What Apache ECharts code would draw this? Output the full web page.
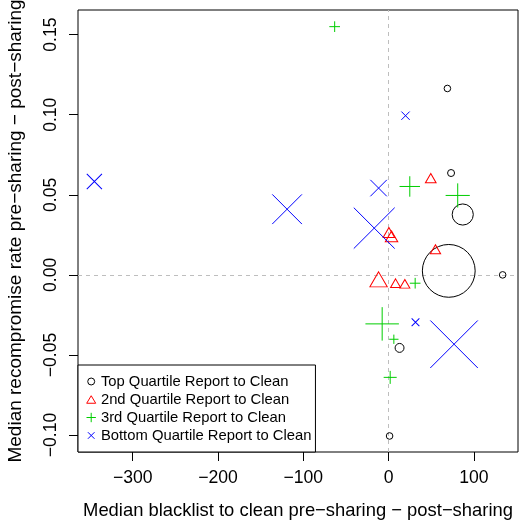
<!DOCTYPE html>
<html>
<head>
<meta charset="utf-8">
<script src="https://cdn.jsdelivr.net/npm/echarts@6/dist/echarts.min.js"></script>
<style>
  html, body { margin: 0; padding: 0; background: #fff; }
  #chart { width: 519px; height: 524px; }
</style>
</head>
<body>
<div id="chart"></div>
<script>
// groups (legend order)
var groupNames = ["Top Quartile Report to Clean", "2nd Quartile Report to Clean",
  "3rd Quartile Report to Clean", "Bottom Quartile Report to Clean"];

// x: median blacklist to clean diff, y: median recompromise rate diff, cex: marker size
var topX = [69, 73.3, 87, 70.6, 133.8, 12.9, 1.2];
var topY = [0.1164, 0.0636, 0.0377, 0.0025, 0.0, -0.0456, -0.1006];
var topCex = [1, 1.06, 3.2, 8.0, 1, 1.35, 1];

var secondX = [49.5, 0.4, 3.5, 55, -11.7, 8.2, 19.1];
var secondY = [0.0604, 0.0265, 0.024, 0.016, -0.0028, -0.0052, -0.0056];
var secondCex = [1.2, 1.3, 1.4, 1.16, 1.95, 1.12, 1.12];

var thirdX = [-63.2, 24.9, 81.1, -7.5, 6.2, 1.9, 31.2];
var thirdY = [0.155, 0.0552, 0.0496, -0.0306, -0.0402, -0.064, -0.0052];
var thirdCex = [1.15, 2.2, 2.6, 3.6, 1, 1.4, 1.15];

var bottomX = [-345, -119, -16.8, -11.7, 19.9, 31.6, 76.8];
var bottomY = [0.0583, 0.041, 0.0292, 0.0542, 0.0994, -0.0296, -0.0433];
var bottomCex = [2.3, 4.5, 6.2, 2.5, 1.26, 1.17, 7.2];

var xTicks = [-300, -200, -100, 0, 100];
var yTicks = [-0.1, -0.05, 0, 0.05, 0.1, 0.15];

var FONT = "Liberation Sans";
var PLUS = "path://M0,5L10,5M5,0L5,10";
var CROSS = "path://M0,0L10,10M10,0L0,10";

function pts(xs, ys, cs) {
  return xs.map(function (x, i) { return [x, ys[i], cs[i]]; });
}
function minus(s) { return s.replace("-", "\u2212"); }

function makeSeries(name, data, symbol, color, sizeFn) {
  return {
    name: name,
    type: "scatter",
    data: data,
    symbol: symbol,
    symbolSize: sizeFn,
    silent: true,
    itemStyle: { color: "transparent", borderColor: color, borderWidth: 1, opacity: 1 },
    emphasis: { disabled: true },
    z: 3
  };
}

var myChart = echarts.init(document.getElementById("chart"));
var series = [
  makeSeries(groupNames[0], pts(topX, topY, topCex), "circle", "#000000",
    function (v) { return v[2] * 6.6; }),
  makeSeries(groupNames[1], pts(secondX, secondY, secondCex), "triangle", "#ff0000",
    function (v) { return [v[2] * 8.9, v[2] * 7.7]; }),
  makeSeries(groupNames[2], pts(thirdX, thirdY, thirdCex), PLUS, "#00cd00",
    function (v) { return v[2] * 9.3; }),
  makeSeries(groupNames[3], pts(bottomX, bottomY, bottomCex), CROSS, "#0000ff",
    function (v) { return v[2] * 6.6; })
];
// zero reference lines
series[0].markLine = {
  silent: true,
  symbol: "none",
  label: { show: false },
  lineStyle: { color: "#bebebe", type: [4, 4], width: 1 },
  data: [{ xAxis: 0 }, { yAxis: 0 }],
  z: 1
};

myChart.setOption({
  animation: false,
  textStyle: { fontFamily: FONT },
  grid: {
    left: 78, right: 1, top: 10, bottom: 72,
    containLabel: false, outerBoundsMode: "none",
    show: true, borderColor: "#000", borderWidth: 1, backgroundColor: "transparent"
  },
  xAxis: {
    type: "value",
    min: -364.2, max: 151.8,
    splitLine: { show: false },
    axisLine: { show: false, onZero: false },
    axisTick: { show: true, inside: false, length: 9, customValues: xTicks,
      lineStyle: { color: "#000" } },
    axisLabel: { customValues: xTicks, margin: 17, color: "#000", fontSize: 17.6,
      formatter: function (v) { return minus(String(v)); } },
    name: "Median blacklist to clean pre\u2212sharing \u2212 post\u2212sharing",
    nameLocation: "middle", nameGap: 50,
    nameTextStyle: { fontSize: 18.4, color: "#000" }
  },
  yAxis: {
    type: "value",
    min: -0.1106, max: 0.1654,
    splitLine: { show: false },
    axisLine: { show: false, onZero: false },
    axisTick: { show: true, inside: false, length: 9, customValues: yTicks,
      lineStyle: { color: "#000" } },
    axisLabel: { customValues: yTicks, rotate: 90, margin: 18, color: "#000", fontSize: 17.6,
      formatter: function (v) { return minus(v.toFixed(2)); } },
    name: "Median recompromise rate pre\u2212sharing \u2212 post\u2212sharing",
    nameLocation: "middle", nameGap: 53, nameRotate: 90,
    nameTextStyle: { fontSize: 19, color: "#000" }
  },
  legend: {
    orient: "vertical",
    left: 78, top: 365,
    padding: [9, 4, 9, 8],
    itemWidth: 9.4, itemHeight: 9.4,
    itemGap: 3,
    itemTextGap: 11,
    borderColor: "#000", borderWidth: 1, borderRadius: 0,
    backgroundColor: "#fff",
    selectedMode: false,
    textStyle: { fontSize: 14.8, color: "#000", fontFamily: FONT },
    data: [
      { name: groupNames[0], icon: "path://M0,0M10,10M1.3,5A3.7,3.7,0,1,1,8.7,5A3.7,3.7,0,1,1,1.3,5Z",
        itemStyle: { color: "transparent", borderColor: "#000000", borderWidth: 1 } },
      { name: groupNames[1], icon: "path://M0,0M10,10M0.2,9L5,1L9.8,9Z",
        itemStyle: { color: "transparent", borderColor: "#ff0000", borderWidth: 1 } },
      { name: groupNames[2], icon: PLUS,
        itemStyle: { color: "transparent", borderColor: "#00cd00", borderWidth: 1 } },
      { name: groupNames[3], icon: "path://M0,0M10,10M1.5,1.5L8.5,8.5M8.5,1.5L1.5,8.5",
        itemStyle: { color: "transparent", borderColor: "#0000ff", borderWidth: 1 } }
    ]
  },
  series: series
});
</script>
</body>
</html>
